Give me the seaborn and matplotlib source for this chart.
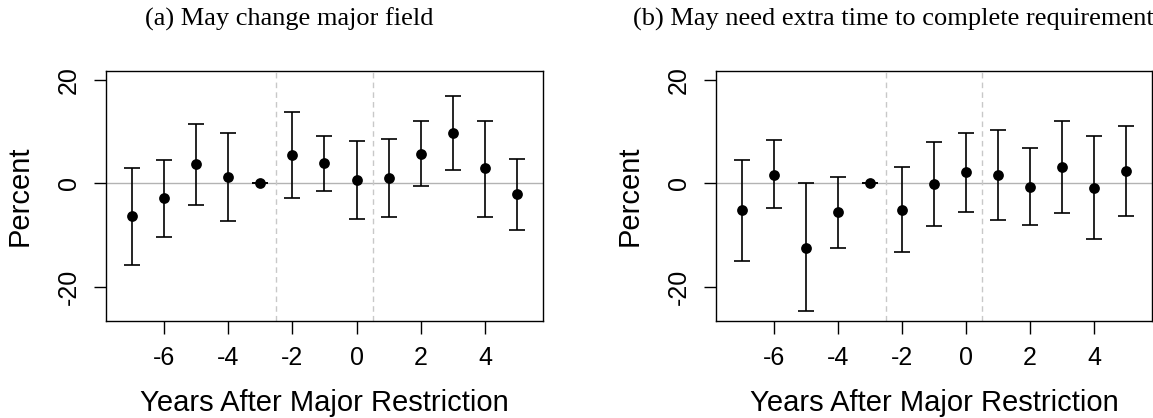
import numpy as np
import pandas as pd
import matplotlib
matplotlib.use('Agg')
import matplotlib.pyplot as plt
import seaborn as sns

years = [-7, -6, -5, -4, -3, -2, -1, 0, 1, 2, 3, 4, 5]

# panel (a): may change major field
est_a = [-6.3, -2.85, 3.7, 1.2, 0, 5.4, 3.9, 0.7, 1.0, 5.7, 9.7, 2.9, -2.1]
lo_a = [-15.7, -10.3, -4.1, -7.3, 0, -2.8, -1.55, -6.8, -6.5, -0.6, 2.6, -6.5, -9.0]
hi_a = [3.0, 4.6, 11.5, 9.7, 0, 13.7, 9.2, 8.1, 8.6, 12.0, 16.9, 12.0, 4.8]

# panel (b): may need extra time
est_b = [-5.2, 1.7, -12.4, -5.6, 0, -5.2, -0.1, 2.1, 1.7, -0.65, 3.15, -0.9, 2.45]
lo_b = [-15.0, -4.8, -24.6, -12.5, 0, -13.3, -8.2, -5.6, -7.1, -8.0, -5.7, -10.8, -6.3]
hi_b = [4.6, 8.3, 0.0, 1.3, 0, 3.2, 8.0, 9.8, 10.3, 6.9, 12.0, 9.1, 11.1]

titles = ["(a) May change major field",
          "(b) May need extra time to complete requirements"]
xticks = [-6, -4, -2, 0, 2, 4]
yticks = [-20, 0, 20]

sns.set_style('white')
plt.rcParams['font.family'] = ['Liberation Sans', 'DejaVu Sans']
plt.rcParams['text.color'] = 'black'
plt.rcParams['axes.labelcolor'] = 'black'
plt.rcParams['xtick.color'] = 'black'
plt.rcParams['ytick.color'] = 'black'

fig = plt.figure(figsize=(11.53, 4.18), dpi=100)
ax1 = fig.add_axes([0.0919, 0.232, 0.379, 0.598])
ax2 = fig.add_axes([0.621, 0.232, 0.378, 0.598])


def draw_panel(ax, est, lo, hi):
    df = pd.DataFrame({'year': years, 'est': est, 'lo': lo, 'hi': hi})
    ax.axhline(0, color='#b3b3b3', linewidth=1.0, zorder=1)
    for xv in [-2.5, 0.5]:
        ax.axvline(xv, color='#c8c8c8', linestyle=(0, (4, 3)), linewidth=1.0, zorder=1)
    yerr = np.array([df['est'] - df['lo'], df['hi'] - df['est']])
    ax.errorbar(df['year'], df['est'], yerr=yerr, fmt='none', ecolor='black',
                elinewidth=1.2, capsize=6, capthick=1.2, zorder=2)
    sns.scatterplot(data=df, x='year', y='est', ax=ax, color='black', s=60,
                    edgecolor='black', linewidth=0, zorder=3)
    ax.set_xlim(-7.8, 5.8)
    ax.set_ylim(-26.6, 21.7)
    ax.set_xticks(xticks)
    ax.set_xticklabels([str(t) for t in xticks])
    ax.set_yticks(yticks)
    ax.set_yticklabels([str(t) for t in yticks], rotation=90, va='center')
    ax.tick_params(axis='both', direction='out', length=9, width=1, color='black',
                   labelsize=18, pad=9, left=True, bottom=True, labelcolor='black')
    for sp in ax.spines.values():
        sp.set_color('black')
        sp.set_linewidth(1.0)
    ax.set_xlabel('Years After Major Restriction', fontsize=21, color='black')
    ax.set_ylabel('Percent', fontsize=21, color='black')
    ax.xaxis.set_label_coords(0.5, -0.272)
    ax.yaxis.set_label_coords(-0.165, 0.5)


draw_panel(ax1, est_a, lo_a, hi_a)
draw_panel(ax2, est_b, lo_b, hi_b)

fig.text(289 / 1153, 1 - 19 / 418, titles[0], ha='center', va='center',
         fontsize=19, color='black', family=['Liberation Serif', 'DejaVu Serif'])
fig.text(633 / 1153, 1 - 19 / 418, titles[1], ha='left', va='center',
         fontsize=19, color='black', family=['Liberation Serif', 'DejaVu Serif'])

fig.savefig('out.png', dpi=100)
